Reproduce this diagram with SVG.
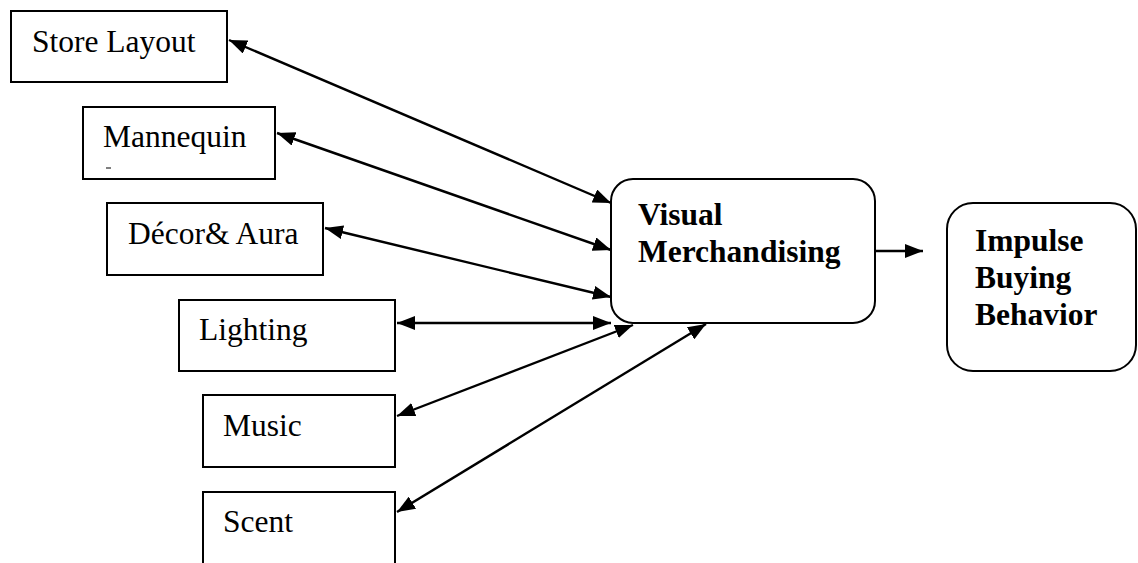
<svg xmlns="http://www.w3.org/2000/svg" width="1138" height="563" viewBox="0 0 1138 563">
  <style>
    .box { fill: #fff; stroke: #000; stroke-width: 2; }
    .lbl { font-family: "Liberation Serif", "Times New Roman", serif; font-size: 31.5px; fill: #000; }
    .bold { font-weight: bold; }
    .conn { stroke: #000; stroke-width: 2.4; fill: none; }
  </style>
  <defs>
    <marker id="ah" viewBox="0 0 18 14" refX="18" refY="7" markerWidth="18" markerHeight="14" markerUnits="userSpaceOnUse" orient="auto-start-reverse">
      <path d="M0,0 L18,7 L0,14 z" fill="#000"/>
    </marker>
  </defs>
  <rect width="1138" height="563" fill="#fff"/>

  <g id="store-layout">
    <rect class="box" x="11" y="11" width="216" height="71"/>
    <text class="lbl" x="32" y="52">Store Layout</text>
  </g>
  <g id="mannequin">
    <rect class="box" x="83" y="107" width="192" height="72"/>
    <text class="lbl" x="103" y="147">Mannequin</text>
    <line x1="106" y1="168" x2="111" y2="168" stroke="#000" stroke-width="1"/>
  </g>
  <g id="decor-aura">
    <rect class="box" x="107" y="203" width="216" height="72"/>
    <text class="lbl" x="128" y="244">Décor&amp; Aura</text>
  </g>
  <g id="lighting">
    <rect class="box" x="179" y="300" width="216" height="71"/>
    <text class="lbl" x="199" y="340">Lighting</text>
  </g>
  <g id="music">
    <rect class="box" x="203" y="395" width="192" height="72"/>
    <text class="lbl" x="223" y="436">Music</text>
  </g>
  <g id="scent">
    <rect class="box" x="203" y="492" width="192" height="76"/>
    <text class="lbl" x="223" y="532">Scent</text>
  </g>
  <g id="visual-merchandising">
    <rect class="box" x="611" y="179" width="264" height="144" rx="22" ry="22"/>
    <text class="lbl bold" x="638" y="225">Visual</text>
    <text class="lbl bold" x="638" y="262">Merchandising</text>
  </g>
  <g id="impulse-buying">
    <rect class="box" x="947" y="203" width="189" height="168" rx="26" ry="26"/>
    <text class="lbl bold" x="975" y="251">Impulse</text>
    <text class="lbl bold" x="975" y="288">Buying</text>
    <text class="lbl bold" x="975" y="325">Behavior</text>
  </g>

  <g id="connectors">
    <line class="conn" x1="229" y1="40" x2="611" y2="203" marker-start="url(#ah)" marker-end="url(#ah)"/>
    <line class="conn" x1="277" y1="133" x2="611" y2="250" marker-start="url(#ah)" marker-end="url(#ah)"/>
    <line class="conn" x1="325" y1="228" x2="611" y2="297" marker-start="url(#ah)" marker-end="url(#ah)"/>
    <line class="conn" x1="397" y1="323" x2="611" y2="323" marker-start="url(#ah)" marker-end="url(#ah)"/>
    <line class="conn" x1="397" y1="416" x2="633" y2="325" marker-start="url(#ah)" marker-end="url(#ah)"/>
    <line class="conn" x1="397" y1="512" x2="706" y2="324" marker-start="url(#ah)" marker-end="url(#ah)"/>
    <line class="conn" x1="875" y1="251" x2="923" y2="251" marker-end="url(#ah)"/>
  </g>
</svg>
